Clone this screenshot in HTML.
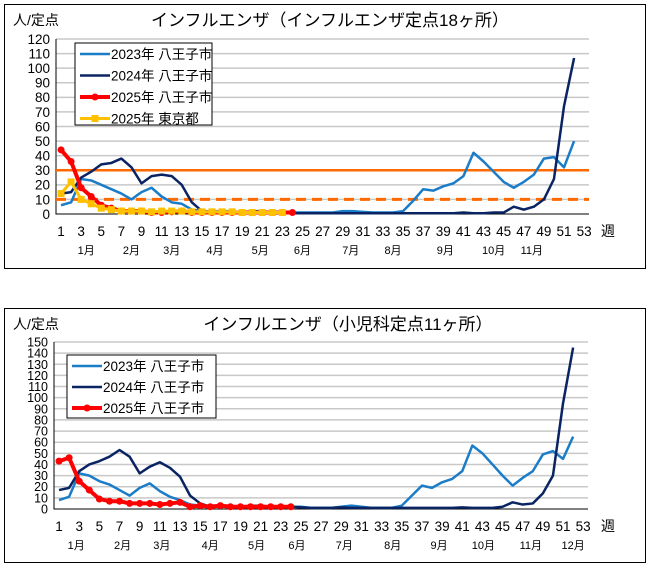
<!DOCTYPE html>
<html><head><meta charset="utf-8"><style>
body{margin:0;background:#fff;width:651px;height:565px;overflow:hidden}
svg{display:block;font-family:"Liberation Sans","Noto Sans CJK JP",sans-serif}
</style></head><body>
<svg id="s" width="651" height="565">
<rect x="4.5" y="4.5" width="641" height="264" fill="#fff" stroke="#000"/>
<rect x="4.5" y="308.5" width="641" height="254" fill="#fff" stroke="#000"/>
<text x="13" y="25" font-size="14">人/定点</text>
<text x="330" y="26" font-size="17" text-anchor="middle">インフルエンザ（インフルエンザ定点18ヶ所）</text>
<text x="13" y="329" font-size="14">人/定点</text>
<text x="348" y="330" font-size="17" text-anchor="middle">インフルエンザ（小児科定点11ヶ所）</text>
<g id="c1"></g><g id="c2"></g>
</svg>
<script>
const weeks=[];for(let i=1;i<=53;i++)weeks.push(i);
const c1_2023=[6,8,24,23,20,17,14,10,15,18,12,8,7,3,2,2,2,2,1,2,2,1,1,1,1,1,1,1,2,2,1.5,1,1,1,2,9,17,16,19,21,26,42,36,29,22,18,22,27,38,39,32,50];
const c1_2024=[14,15,25,29,34,35,38,32,21,26,27,26,20,8,2,1,1,1,0.5,0.5,0.5,0.5,0.5,0.5,0.5,0.5,0.5,0.5,0.5,0.5,0.5,0.5,0.5,0.5,0.5,0.5,0.5,0.5,0.5,0.5,1,0.5,0.5,1,1,5,3,5,10,24,74,107];
const c1_2025=[44,36,18,12,6,4,2,2,2,1,1,1.5,2,1,1,1,1,1,1,1,1,1,1,1];
const c1_tokyo=[14,22,10,7,4,3,2,2,2,1.5,2,2,2,1.5,1.5,1.5,1.5,1.5,1,1,1,1,1];
const c1_thresh=[30,10];
const c2_2023=[8,11,32,30,25,22,17,12,19,23,16,11,8,4,3,3,3,3,2,3,3,2,2,2,2,1,1,1,2,3,2,1,1,1,3,12,21,19,24,27,34,57,50,40,30,21,28,34,49,52,45,65];
const c2_2024=[17,19,34,40,43,47,53,47,32,38,42,37,29,12,5,2,2,2,2,2,2,2,2,2,1.5,1,1,1,1.5,1,1,1,1,1,1,1,1,1,1,1,1.5,1,1,1,2,6,4,5,14,30,95,145];
const c2_2025=[43,46,25,17,9,7,7,5,5,5,4,5,6,2,3,2,3,2,2,2,2,2,2,2];
const c1_ticks=[0,10,20,30,40,50,60,70,80,90,100,110,120];
const c2_ticks=[0,10,20,30,40,50,60,70,80,90,100,110,120,130,140,150];
const c1_months=[["1月",3.5],["2月",8],["3月",12],["4月",16.3],["5月",20.8],["6月",25],["7月",29.8],["8月",34],["9月",39.2],["10月",44],["11月",47.8]];
const c2_months=[["1月",2.7],["2月",7.3],["3月",11.2],["4月",16],["5月",20.6],["6月",24.6],["7月",29.3],["8月",34.1],["9月",38.7],["10月",43.1],["11月",47.8],["12月",52]];
const NS="http://www.w3.org/2000/svg";
function mk(p,t,a){const e=document.createElementNS(NS,t);for(const k in a)e.setAttribute(k,a[k]);p.appendChild(e);return e;}
function chart(g,pfx,cfg){
 const X=w=>cfg.x0+(w-0.5)*cfg.bw, Y=v=>cfg.y0-v*cfg.k;
 cfg.ticks.forEach(t=>{
  if(t>0){const l=mk(g,'line',{x1:cfg.x0,x2:cfg.x1,y1:Y(t),y2:Y(t),stroke:'#c8c8c8','stroke-width':1.5});
  
  }
  const tx=mk(g,'text',{x:cfg.x0-6,y:Y(t)+cfg.fs*0.36,'font-size':cfg.fs,'text-anchor':'end'});tx.textContent=t;
  
  
 });
 const ax=mk(g,'path',{d:`M${cfg.x0},${Y(cfg.ticks[cfg.ticks.length-1])}V${cfg.y0}H${cfg.x1}`,fill:'none',stroke:'#000','stroke-width':1});
 
 
 weeks.forEach(w=>{if(w%2){const t=mk(g,'text',{x:X(w),y:cfg.wy,'font-size':13.5,'text-anchor':'middle'});t.textContent=w;
  
  }});
 const wk=mk(g,'text',{x:608,y:cfg.wy,'font-size':14,'text-anchor':'middle'});wk.textContent='週';
 
 
 cfg.months.forEach(m=>{const t=mk(g,'text',{x:X(m[1]),y:cfg.my,'font-size':11,'text-anchor':'middle'});t.textContent=m[0];
  
  });
 (cfg.thresh||[]).forEach((v,i)=>{const l=mk(g,'line',{x1:cfg.x0,x2:cfg.x1,y1:Y(v),y2:Y(v),stroke:'#ff6a00','stroke-width':i?3:2.5});
  if(i)l.setAttribute('stroke-dasharray','10,6');
  
  });
 cfg.series.forEach(s=>{
  const pl=mk(g,'polyline',{points:s.d.map((v,i)=>X(i+1)+','+Y(v)).join(' '),fill:'none',stroke:s.c,'stroke-width':s.w,'stroke-linejoin':'round'});
  
  
  if(s.m) s.d.forEach((v,i)=>{const m=s.m=='c'?mk(g,'circle',{cx:X(i+1),cy:Y(v),r:3.5,fill:s.c}):mk(g,'rect',{x:X(i+1)-3.5,y:Y(v)-3.5,width:7,height:7,fill:s.c});
   
   });
 });
 const L=cfg.leg;
 const lb=mk(g,'rect',{x:L.x,y:L.y,width:L.w,height:L.h,fill:'#fff',stroke:'#000'});
 
 
 cfg.series.forEach((s,i)=>{const yy=L.y+11+i*L.dy;
  const ln=mk(g,'line',{x1:L.x+5,x2:L.x+35,y1:yy,y2:yy,stroke:s.c,'stroke-width':s.w});
  
  
  if(s.m){const m=s.m=='c'?mk(g,'circle',{cx:L.x+20,cy:yy,r:3.5,fill:s.c}):mk(g,'rect',{x:L.x+16.5,y:yy-3.5,width:7,height:7,fill:s.c});
   
   }
  const t=mk(g,'text',{x:L.x+36,y:yy+5,'font-size':13.5,'xml:space':'preserve'});t.textContent=s.label;
  
  });
}
chart(document.getElementById('c1'),'c1-',{x0:56,x1:589,bw:10.06,y0:214,k:175/120,fs:13.5,ticks:c1_ticks,wy:236,my:254,months:c1_months,thresh:c1_thresh,
 leg:{x:75,y:43,w:137,h:82,dy:21.5},
 series:[{n:'series-2023',d:c1_2023,c:'#1b7cc8',w:2.5,label:'2023年  八王子市'},
  {n:'series-2024',d:c1_2024,c:'#0a2463',w:2.5,label:'2024年  八王子市'},
  {n:'series-2025',d:c1_2025,c:'#ff0000',w:4,m:'c',label:'2025年  八王子市'},
  {n:'series-2025-tokyo',d:c1_tokyo,c:'#ffc000',w:3,m:'s',label:'2025年  東京都'}]});
chart(document.getElementById('c2'),'c2-',{x0:54,x1:588,bw:10.08,y0:509,k:167/150,fs:12.5,ticks:c2_ticks,wy:531,my:549,months:c2_months,
 leg:{x:67,y:355,w:149,h:63,dy:21},
 series:[{n:'series-2023',d:c2_2023,c:'#1b7cc8',w:2.5,label:'2023年  八王子市'},
  {n:'series-2024',d:c2_2024,c:'#0a2463',w:2.5,label:'2024年  八王子市'},
  {n:'series-2025',d:c2_2025,c:'#ff0000',w:4,m:'c',label:'2025年  八王子市'}]});
</script>
</body></html>
